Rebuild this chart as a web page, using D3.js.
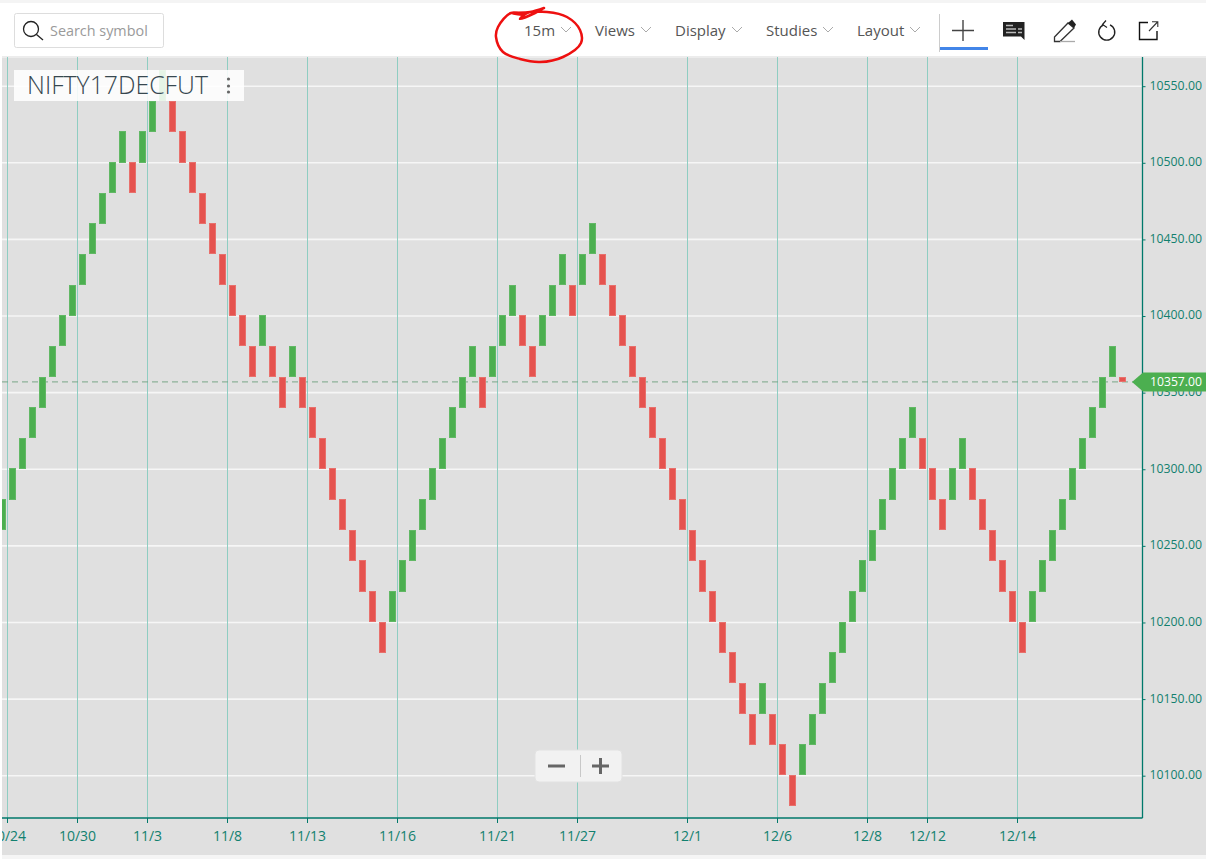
<!DOCTYPE html>
<html><head><meta charset="utf-8"><title>NIFTY17DECFUT</title>
<script src="https://cdnjs.cloudflare.com/ajax/libs/d3/7.8.5/d3.min.js"></script>
<style>
html,body{margin:0;padding:0;background:#fff;overflow:hidden}
svg{display:block}
text{font-family:"Open Sans",sans-serif}
</style></head><body><svg id="c" width="1206" height="859"></svg>
<script>
// Renko brick opens and closes, read left to right from the picture
const brickOpen = [10260,10280,10300,10320,10340,10360,10380,10400,10420,10440,10460,10480,10500,10500,10500,10520,10540,10540,10520,10500,10480,10460,10440,10420,10400,10380,10380,10380,10360,10360,10360,10340,10320,10300,10280,10260,10240,10220,10200,10200,10220,10240,10260,10280,10300,10320,10340,10360,10360,10360,10380,10400,10400,10380,10380,10400,10420,10420,10420,10440,10440,10420,10400,10380,10360,10340,10320,10300,10280,10260,10240,10220,10200,10180,10160,10140,10140,10140,10120,10100,10100,10120,10140,10160,10180,10200,10220,10240,10260,10280,10300,10320,10320,10300,10280,10280,10300,10300,10280,10260,10240,10220,10200,10200,10220,10240,10260,10280,10300,10320,10340,10360,10360];
const brickClose = [10280,10300,10320,10340,10360,10380,10400,10420,10440,10460,10480,10500,10520,10480,10520,10540,10560,10520,10500,10480,10460,10440,10420,10400,10380,10360,10400,10360,10340,10380,10340,10320,10300,10280,10260,10240,10220,10200,10180,10220,10240,10260,10280,10300,10320,10340,10360,10380,10340,10380,10400,10420,10380,10360,10400,10420,10440,10400,10440,10460,10420,10400,10380,10360,10340,10320,10300,10280,10260,10240,10220,10200,10180,10160,10140,10120,10160,10120,10100,10080,10120,10140,10160,10180,10200,10220,10240,10260,10280,10300,10320,10340,10300,10280,10260,10300,10320,10280,10260,10240,10220,10200,10180,10220,10240,10260,10280,10300,10320,10340,10360,10380,10357];
const priceTicks = [10100,10150,10200,10250,10300,10350,10400,10450,10500,10550];
const dateLabels = ["10/24","10/30","11/3","11/8","11/13","11/16","11/21","11/27","12/1","12/6","12/8","12/12","12/14"];
const dateBrickIndex = [0,7,14,22,30,39,49,57,68,77,86,92,101];
const lastPrice = 10357;
const symbol = "NIFTY17DECFUT";
const menuItems = ["15m","Views","Display","Studies","Layout"];

const svg = d3.select("#c");
const teal = "#00796b";
const plot = {l:2, r:1142.5, t:57, b:818};
const x = d3.scaleLinear().domain([0,1]).range([2.7,12.7]);
const tickX = d3.scaleLinear().domain([0,1]).range([7.5,17.5]);
const y = d3.scaleLinear().domain([10100,10550]).range([775.7,86.2]);

// Backgrounds
svg.append("rect").attr("width",1206).attr("height",859).attr("fill","#fff");
svg.append("rect").attr("x",plot.l).attr("y",plot.t).attr("width",1204).attr("height",798).attr("fill","#e0e0e0");
svg.append("rect").attr("x",0).attr("y",855).attr("width",1206).attr("height",4).attr("fill","#f5f5f5");
svg.append("rect").attr("x",0).attr("y",0).attr("width",1206).attr("height",3).attr("fill","#f4f4f4");
svg.append("rect").attr("x",plot.l).attr("y",56).attr("width",1204).attr("height",2).attr("fill","#ececec");

// Grid
const vx = dateBrickIndex.map(i=>tickX(i));
svg.append("g").selectAll("line").data(priceTicks).join("line")
  .attr("x1",plot.l).attr("x2",plot.r).attr("y1",d=>y(d)).attr("y2",d=>y(d))
  .attr("stroke","#f6f6f6").attr("stroke-width",1.6);
svg.append("g").selectAll("line").data(vx).join("line")
  .attr("x1",d=>d).attr("x2",d=>d).attr("y1",plot.t).attr("y2",plot.b)
  .attr("stroke","#8fcdc2").attr("stroke-width",1);

// Last-price dashed line
svg.append("line").attr("x1",plot.l).attr("x2",1134).attr("y1",y(lastPrice)).attr("y2",y(lastPrice))
  .attr("stroke","#78a688").attr("stroke-width",1).attr("stroke-dasharray","6,4");

// Bricks, snapped to whole pixels with a 1px softer edge
const brickTop = d=>Math.floor(y(Math.max(d.o,d.c))-0.3);
const brickBottom = d=>Math.round(y(Math.min(d.o,d.c))-0.3);
svg.append("g").selectAll("rect").data(brickOpen.map((o,i)=>({o,c:brickClose[i],i}))).join("rect")
  .attr("x",d=>Math.floor(x(d.i)-3.2)+0.5).attr("width",6)
  .attr("y",d=>brickTop(d)+0.5).attr("height",d=>brickBottom(d)-brickTop(d)-1)
  .attr("fill",d=>d.c>=d.o?"#4caf50":"#e5534f")
  .attr("stroke",d=>d.c>=d.o?"#62b865":"#e8706c").attr("stroke-width",1);

// Axes
const yAxis = d3.axisRight(y).tickValues(priceTicks).tickFormat(d3.format(".2f")).tickSize(3).tickPadding(4);
const gy = svg.append("g").attr("transform",`translate(${plot.r},0)`).call(yAxis);
gy.select(".domain").attr("d",`M0,${plot.t}V${plot.b}`).attr("stroke",teal).attr("stroke-width",1.3);
gy.selectAll(".tick line").attr("stroke",teal);
gy.selectAll("text").attr("fill","#12806f").attr("y",-1).style("font-size","12.3px").style("font-family",'"Open Sans",sans-serif');

const xScalePts = d3.scaleOrdinal().domain(dateLabels).range(vx);
const xAxis = d3.axisBottom(xScalePts).tickSize(5).tickPadding(8);
const gx = svg.append("g").attr("transform",`translate(0,${plot.b})`).call(xAxis);
gx.select(".domain").attr("d",`M${plot.l},0H${plot.r}`).attr("stroke",teal).attr("stroke-width",1.3);
gx.selectAll(".tick").attr("transform",d=>`translate(${xScalePts(d)},0)`);
gx.selectAll(".tick line").attr("stroke",teal);
gx.selectAll("text").attr("fill","#12806f").style("font-size","14px").style("font-family",'"Open Sans",sans-serif');
svg.append("rect").attr("x",0).attr("y",plot.t).attr("width",plot.l).attr("height",802).attr("fill","#fff");

// Last price tag
const ly = y(lastPrice);
svg.append("path").attr("d",`M1132,${ly}L1143,${ly-9.5}H1206V${ly+9.5}H1143Z`).attr("fill","#4caf50");
svg.append("text").attr("x",1150).attr("y",ly+4.5).attr("fill","#fff").style("font-size","12.2px").text(lastPrice.toFixed(2));

// Symbol label
svg.append("rect").attr("x",14).attr("y",70).attr("width",230).attr("height",31).attr("fill","#fff").attr("opacity",.86);
svg.append("text").attr("x",27).attr("y",94).attr("fill","#37474f").style("font-size","24.8px").style("font-weight",300).text(symbol);
svg.selectAll(".dot").data([79,86,92]).join("circle").attr("cx",228.5).attr("cy",d=>d).attr("r",1.6).attr("fill","#666");

// Search box
svg.append("rect").attr("x",14.5).attr("y",13.5).attr("width",149).attr("height",34).attr("rx",2).attr("fill","#fff").attr("stroke","#ddd");
svg.append("circle").attr("cx",31).attr("cy",29).attr("r",7.5).attr("fill","none").attr("stroke","#222").attr("stroke-width",1.3);
svg.append("line").attr("x1",36.5).attr("y1",34.5).attr("x2",43).attr("y2",40).attr("stroke","#222").attr("stroke-width",1.3);
svg.append("text").attr("x",50).attr("y",36).attr("fill","#9a9a9a").style("font-size","14.4px").text("Search symbol");

// Menu
const menuX = [524,595,675,766,857];
const chevX = [566,646,737,828,915];
menuItems.forEach((m,i)=>{
  svg.append("text").attr("x",menuX[i]).attr("y",36).attr("fill","#555").style("font-size","15px").text(m);
  svg.append("path").attr("d",`M${chevX[i]-5},27l5,5l5,-5`).attr("fill","none").attr("stroke","#aaa");
});

// Tools
svg.append("line").attr("x1",939.5).attr("x2",939.5).attr("y1",14).attr("y2",52).attr("stroke","#ccc");
svg.append("rect").attr("x",940).attr("y",47).attr("width",48).attr("height",3).attr("fill","#4285e8");
svg.append("path").attr("d","M952,30.5H974M963,20V41").attr("stroke","#444").attr("stroke-width",1.4).attr("fill","none");
svg.append("path").attr("d","M1003,22H1024.5V40L1021,36.5H1003Z").attr("fill","#222");
svg.append("path").attr("d","M1006,25.5H1013M1006,29H1016M1006,32.5H1016M1018,29H1022M1018,32.5H1022").attr("stroke","#bbb").attr("stroke-width",1.3);
svg.append("path").attr("d","M1054.5,37L1068,23L1074,28L1060,41.5H1054.5Z").attr("fill","none").attr("stroke","#333").attr("stroke-width",1.3);
svg.append("path").attr("d","M1068,23L1072,19.5L1076,24.5L1074,28Z").attr("fill","#222");
svg.append("line").attr("x1",1060).attr("x2",1075).attr("y1",41.5).attr("y2",41.5).attr("stroke","#aaa").attr("stroke-width",1.3);
svg.append("path").attr("d","M1103.5,24.8A8,8 0 1 0 1110,24.8").attr("fill","none").attr("stroke","#222").attr("stroke-width",1.4);
svg.append("path").attr("d","M1106,20.5L1102.5,24.5L1107,27.5").attr("fill","none").attr("stroke","#222").attr("stroke-width",1.2);
svg.append("path").attr("d","M1148,22.5H1139.5V39.5H1157V31").attr("fill","none").attr("stroke","#111").attr("stroke-width",1.4);
svg.append("path").attr("d","M1149,31L1157.5,22M1152,21.8H1157.8V27").attr("fill","none").attr("stroke","#333").attr("stroke-width",1.1);

// Hand-drawn red circle
const scribble = [[544,8],[530,12],[511,13],[524,15],[511,13],[498,27],[496,37],[503,52],[520,59],[540,62],[563,57],[581,43],[580,30],[567,17],[547,12],[527,13],[520,19],[535,13],[544,8]];
svg.append("path")
  .attr("d",d3.line().curve(d3.curveCatmullRom.alpha(0.5))(scribble))
  .attr("fill","none").attr("stroke","#ee1010").attr("stroke-width",2.5).attr("stroke-linecap","round").attr("stroke-linejoin","round");

// Zoom control
svg.append("rect").attr("x",535).attr("y",750).attr("width",87).attr("height",32).attr("rx",4).attr("fill","#f2f2f2").attr("stroke","#e2e2e2");
svg.append("line").attr("x1",580.5).attr("x2",580.5).attr("y1",755).attr("y2",777).attr("stroke","#c8c8c8");
svg.append("path").attr("d","M548,766H565M592,766H609M600.5,758V774").attr("stroke","#666").attr("stroke-width",3).attr("fill","none");
</script></body></html>
